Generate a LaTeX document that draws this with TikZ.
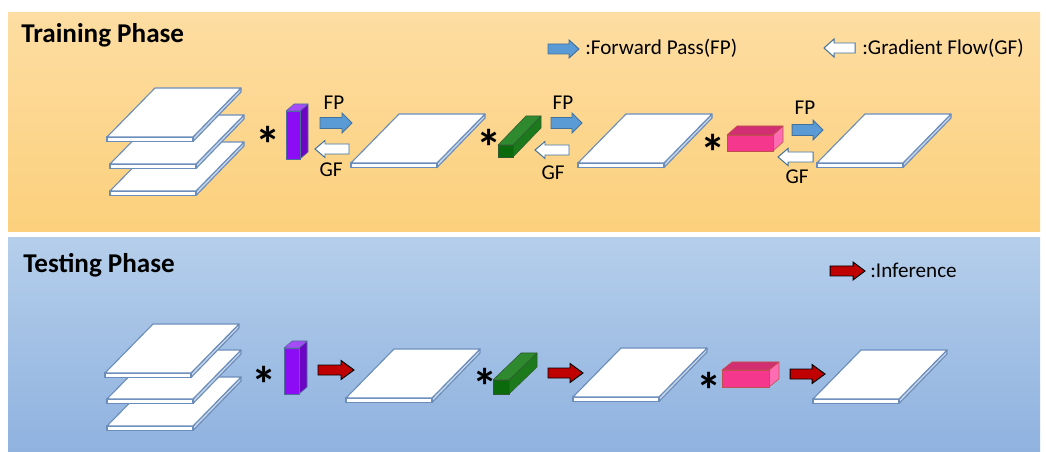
\documentclass[tikz,border=0pt]{standalone}
\usepackage{fontspec}
\setmainfont{Carlito}
\usepackage{tikz}
\usetikzlibrary{calc}

\definecolor{TrainTop}{HTML}{FDDDA2}
\definecolor{TrainBot}{HTML}{FCD07C}
\definecolor{TestTop}{HTML}{B5CEEB}
\definecolor{TestBot}{HTML}{8FB2DF}
\definecolor{PlateEdge}{HTML}{6A8DBA}
\definecolor{PlateSide}{HTML}{C6D5EA}
\definecolor{FPBlue}{HTML}{5B9BD5}
\definecolor{FPEdge}{HTML}{41719C}
\definecolor{InfRed}{HTML}{C00000}
% cuboid colours: front, top, side, edge
\definecolor{VioletFront}{HTML}{8C0CF5}
\definecolor{VioletTop}{HTML}{A64BF8}
\definecolor{VioletSide}{HTML}{6C06C4}
\definecolor{VioletEdge}{HTML}{4E6E9A}
\definecolor{LeafFront}{HTML}{0B6A0B}
\definecolor{LeafTop}{HTML}{2F8A2F}
\definecolor{LeafSide}{HTML}{1C7A1C}
\definecolor{LeafEdge}{HTML}{2E5A2E}
\definecolor{RoseFront}{HTML}{F5388E}
\definecolor{RoseTop}{HTML}{D22F72}
\definecolor{RoseSide}{HTML}{FF6CB2}
\definecolor{RoseEdge}{HTML}{C0504D}

% one feature map, (#1,#2) = front left corner of the top face
\newcommand{\Plate}[2]{
	\filldraw[draw=PlateEdge, fill=PlateSide, line width=0.8pt, line join=round] (#1+86,#2) -- ++(48,-49) -- ++(0,4) -- (#1+86,#2+4.5) -- cycle;
	\filldraw[draw=PlateEdge, fill=white, line width=0.8pt] (#1,#2) rectangle (#1+86,#2+4.5);
	\filldraw[draw=PlateEdge, fill=white, line width=0.8pt, line join=round] (#1,#2) -- ++(48,-49) -- ++(86,0) -- ++(-48,49) -- cycle;
}
% kernel, #1 = colour set, (#2,#3) = bottom left of front face, #4 x #5 front, (#6,#7) depth
\newcommand{\Cuboid}[7]{
	\filldraw[draw=#1Edge, fill=#1Side, line join=round] (#2+#4,#3) -- ++(#6,-#7) -- ++(0,-#5) -- ++(-#6,#7) -- cycle;
	\filldraw[draw=#1Edge, fill=#1Top, line join=round] (#2,#3-#5) -- ++(#6,-#7) -- ++(#4,0) -- ++(-#6,#7) -- cycle;
	\filldraw[draw=#1Edge, fill=#1Front] (#2,#3) rectangle (#2+#4,#3-#5);
}
% block arrows, #1 style, from x #2 to x #3 at height #4, body #5, head #6, head length #7
\newcommand{\ArrowRight}[7]{
	\filldraw[#1, line join=miter] (#2,#4-#5) -- (#3-#7,#4-#5) -- (#3-#7,#4-#6) -- (#3,#4) -- (#3-#7,#4+#6) -- (#3-#7,#4+#5) -- (#2,#4+#5) -- cycle;
}
\newcommand{\ArrowLeft}[7]{
	\filldraw[#1, line join=miter] (#3,#4-#5) -- (#2+#7,#4-#5) -- (#2+#7,#4-#6) -- (#2,#4) -- (#2+#7,#4+#6) -- (#2+#7,#4+#5) -- (#3,#4+#5) -- cycle;
}

\tikzset{
	fparrow/.style={draw=FPEdge, fill=FPBlue, line width=0.7pt},
	gfarrow/.style={draw=FPEdge, fill=white, line width=0.7pt},
	infarrow/.style={draw=black, fill=InfRed, line width=0.7pt},
	phase/.style={anchor=base west, inner sep=0, font=\fontsize{19.3}{22}\selectfont\bfseries},
	label/.style={inner sep=0, font=\fontsize{15}{18}\selectfont},
	conv/.style={inner sep=0, font=\fontsize{36}{36}\selectfont\bfseries},
}

\begin{document}
\begin{tikzpicture}[x=0.025cm, y=-0.025cm]
	\useasboundingbox (0,0) rectangle (1046,452);

	% backgrounds
	\shade[top color=TrainTop, bottom color=TrainBot] (8,13) rectangle (1040,232);
	\shade[top color=TestTop, bottom color=TestBot] (8,238) rectangle (1040,452);

	\node[phase] (train) at (21,43) {Training Phase};
	\node[phase] (test) at (23,273) {Testing Phase};

	% legends
	\ArrowRight{fparrow}{548}{579}{49}{5}{9}{10}
	\node[label, anchor=west] (fplegend) at (585,48) {:Forward Pass(FP)};
	\ArrowLeft{gfarrow}{824}{855}{48}{5}{9}{10}
	\node[label, anchor=west] (gflegend) at (862,48) {:Gradient Flow(GF)};
	\ArrowRight{infarrow}{830}{865}{271}{5}{9}{12}
	\node[label, anchor=west] (inflegend) at (870,270) {:Inference};

	%%%% training phase
	\Plate{110}{191}
	\Plate{110}{164}
	\Plate{107}{137}
	\node[conv] (t1) at (268,144) {*};
	\Cuboid{Violet}{286}{159}{14}{48}{8}{7}
	\node[label] (fp1) at (334,103) {FP};
	\ArrowRight{fparrow}{320}{352}{123}{5.5}{10}{10}
	\ArrowLeft{gfarrow}{315}{349}{149}{5}{8.5}{10}
	\node[label] (gf1) at (331,170) {GF};

	\Plate{351}{163}
	\node[conv] (t2) at (489,147) {*};
	\Cuboid{Leaf}{498}{157}{15}{12}{28}{29}
	\node[label] (fp2) at (563,103) {FP};
	\ArrowRight{fparrow}{551}{582}{123}{5.5}{10}{10}
	\ArrowLeft{gfarrow}{535}{569}{150}{5}{8.5}{10}
	\node[label] (gf2) at (553,173) {GF};

	\Plate{578}{163}
	\node[conv] (t3) at (713,152) {*};
	\Cuboid{Rose}{727}{151}{46}{16}{10}{9}
	\node[label] (fp3) at (805,108) {FP};
	\ArrowRight{fparrow}{792}{823}{130}{5.5}{10}{10}
	\ArrowLeft{gfarrow}{778}{813}{157}{5}{8.5}{10}
	\node[label] (gf3) at (797,177) {GF};

	\Plate{817}{163}

	%%%% testing phase
	\Plate{107}{426}
	\Plate{107}{399}
	\Plate{105}{373}
	\node[conv] (s1) at (264,384) {*};
	\Cuboid{Violet}{284}{394}{15}{46}{8}{7}
	\ArrowRight{infarrow}{318}{354}{370}{5}{9.5}{13}

	\Plate{346}{398}
	\node[conv] (s2) at (485,386) {*};
	\Cuboid{Leaf}{493}{394}{16}{14}{28}{27}
	\ArrowRight{infarrow}{548}{583}{373}{5}{9.5}{13}

	\Plate{573}{397}
	\node[conv] (s3) at (709,390) {*};
	\Cuboid{Rose}{722}{387}{47}{17}{10}{8}
	\ArrowRight{infarrow}{790}{825}{374}{5}{9.5}{13}

	\Plate{813}{399}
\end{tikzpicture}
\end{document}
